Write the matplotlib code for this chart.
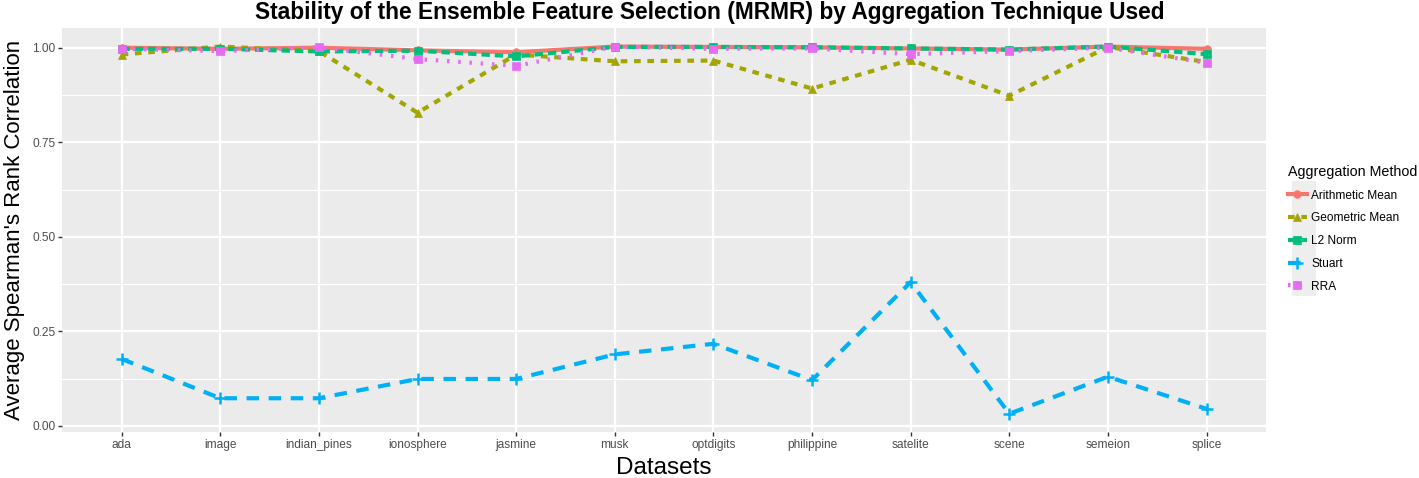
import numpy as np
import matplotlib.pyplot as plt
from matplotlib.patches import Rectangle

plt.rcParams['font.family'] = ['Liberation Sans', 'DejaVu Sans']

# datos
datasets = ['ada', 'image', 'indian_pines', 'ionosphere', 'jasmine', 'musk',
            'optdigits', 'philippine', 'satelite', 'scene', 'semeion', 'splice']
arith = [1.0, 0.997, 1.0, 0.993, 0.988, 1.003, 1.002, 1.001, 0.998, 0.995, 1.003, 0.997]
geom = [0.982, 1.003, 0.991, 0.828, 0.982, 0.964, 0.966, 0.892, 0.968, 0.873, 1.002, 0.962]
l2 = [0.997, 0.997, 0.990, 0.992, 0.977, 1.002, 1.002, 1.001, 0.998, 0.995, 1.003, 0.983]
stuart = [0.177, 0.073, 0.073, 0.124, 0.124, 0.189, 0.217, 0.121, 0.380, 0.032, 0.130, 0.045]
rra = [0.997, 0.991, 1.001, 0.970, 0.952, 1.003, 0.997, 0.998, 0.983, 0.991, 1.0, 0.960]

methods = ['Arithmetic Mean', 'Geometric Mean', 'L2 Norm', 'Stuart', 'RRA']
series = [arith, geom, l2, stuart, rra]
colors = ['#F8766D', '#A3A500', '#00BF7D', '#00B0F6', '#E76BF3']
styles = ['-', (0, (1.6, 1.6)), (0, (2, 1.2)), (0, (3, 2.3)), (0, (0.6, 2.1))]
markers = ['o', '^', 's', '+', 's']

fig = plt.figure(figsize=(14.19, 4.78), dpi=100)
ax = fig.add_axes([0.044, 0.096, 0.848, 0.845])
ax.set_facecolor('#EBEBEB')

x = np.arange(1, len(datasets) + 1)
for vals, name, c, ls, m in zip(series, methods, colors, styles, markers):
    ax.plot(x, vals, color=c, linestyle=ls, linewidth=3, marker=m,
            markersize=8 if m == '+' else 5.5, markeredgewidth=1.8 if m == '+' else 0.5,
            markeredgecolor=c, label=name, dash_capstyle='butt')

# escalas estilo ggplot
ax.set_xlim(0.4, len(datasets) + 0.6)
allv = np.concatenate([np.array(s) for s in series])
lo, hi = allv.min(), allv.max()
pad = (hi - lo) * 0.05
ax.set_ylim(lo - pad, hi + pad)
ax.set_xticks(x)
ax.set_xticklabels(datasets)
yt = [0, 0.25, 0.5, 0.75, 1.0]
ax.set_yticks(yt)
ax.set_yticklabels(['0.00', '0.25', '0.50', '0.75', '1.00'])
ax.set_yticks([0.125, 0.375, 0.625, 0.875], minor=True)
ax.grid(True, which='major', color='white', linewidth=1.6)
ax.grid(True, which='minor', axis='y', color='white', linewidth=0.8)
ax.set_axisbelow(True)
for s in ax.spines.values():
    s.set_visible(False)
ax.tick_params(axis='both', which='major', colors='#333333', labelcolor='#4D4D4D',
               labelsize=8.6, length=3, width=1, pad=2)
ax.tick_params(axis='y', which='minor', length=0)

ax.set_xlabel('Datasets', fontsize=17.5, labelpad=4)
ax.set_ylabel("Average Spearman's Rank Correlation", fontsize=16, labelpad=5)
fig.suptitle('Stability of the Ensemble Feature Selection (MRMR) by Aggregation Technique Used',
             fontsize=16.4, fontweight='bold', x=0.5, y=0.997)

# leyenda
fig.patches.append(Rectangle((1292 / 1419, 1 - 296 / 478), 24 / 1419, 115 / 478,
                             transform=fig.transFigure, facecolor='#EEEEEE',
                             edgecolor='none', zorder=0))
leg = fig.legend(loc='upper left', bbox_to_anchor=(0.904, 0.665), frameon=False,
                 title='Aggregation Method', fontsize=8.6, title_fontsize=10.3,
                 handlelength=1.6, handletextpad=0.4, labelspacing=0.9,
                 borderaxespad=0)
leg._legend_box.align = 'left'

fig.savefig('out.png', dpi=100)
